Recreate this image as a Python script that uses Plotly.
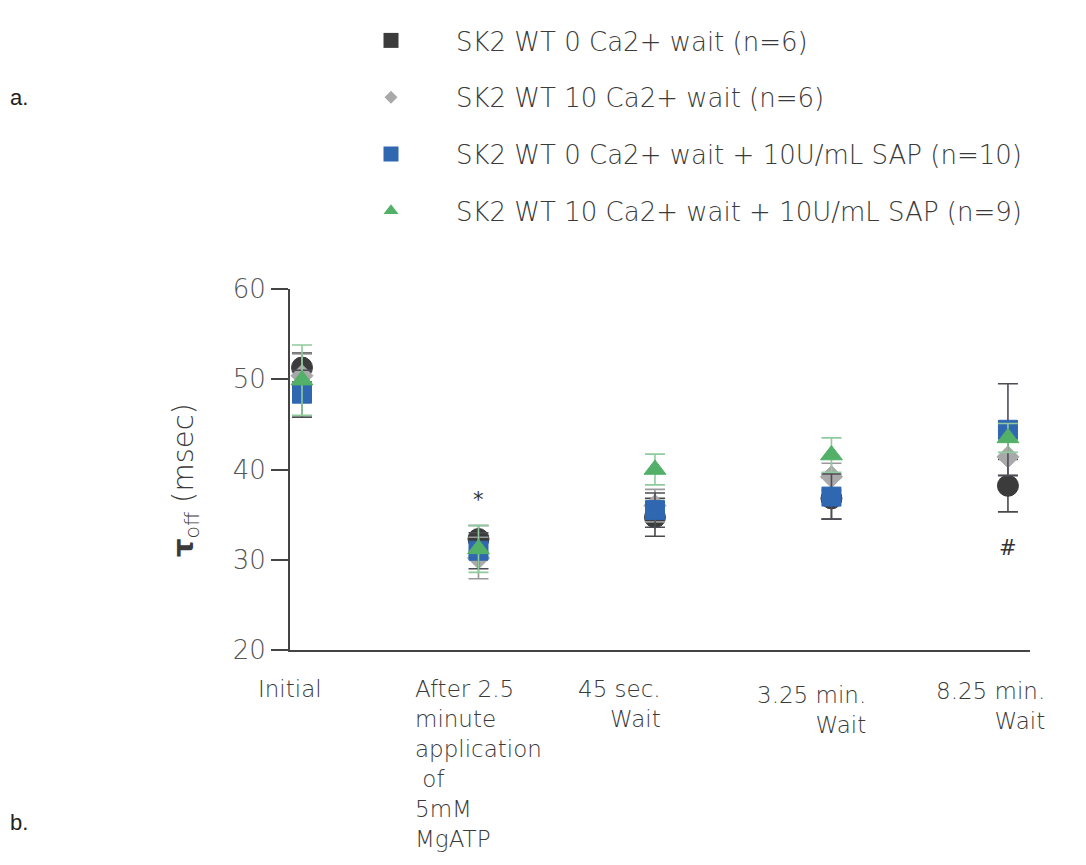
import plotly.graph_objects as go

# Time points of the protocol
categories = ["Initial", "After 2.5 minute application of 5mM MgATP",
              "45 sec. Wait", "3.25 min. Wait", "8.25 min. Wait"]
category_labels = ["Initial",
                   "After 2.5<br>minute<br>application<br>\u00a0of<br>5mM<br>MgATP",
                   "45 sec.<br>Wait",
                   "3.25 min.<br>Wait",
                   "8.25 min.<br>Wait"]

series_names = ["SK2 WT 0 Ca2+ wait (n=6)",
                "SK2 WT 10 Ca2+ wait (n=6)",
                "SK2 WT 0 Ca2+ wait + 10U/mL SAP (n=10)",
                "SK2 WT 10 Ca2+ wait + 10U/mL SAP (n=9)"]

# tau_off means and SEM (msec)
wt0_mean = [51.3, 32.3, 34.7, 36.8, 38.2]
wt0_sem = [1.6, 1.5, 2.1, 2.3, 2.9]
wt10_mean = [50.4, 30.2, 36.0, 39.2, 41.4]
wt10_sem = [2.4, 2.3, 1.8, 1.5, 2.0]
wt0_sap_mean = [48.4, 31.0, 35.5, 37.0, 44.4]
wt0_sap_sem = [2.6, 2.0, 1.9, 2.5, 5.1]
wt10_sap_mean = [49.9, 31.2, 40.0, 41.6, 43.5]
wt10_sap_sem = [3.9, 2.6, 1.7, 1.9, 1.6]

y_ticks = [20, 30, 40, 50, 60]

# significance marks: (category index, y value, symbol)
sig_marks = [(1, 36.6, "*"), (4, 31.3, "#")]

means = [wt0_mean, wt10_mean, wt0_sap_mean, wt10_sap_mean]
sems = [wt0_sem, wt10_sem, wt0_sap_sem, wt10_sap_sem]

colors = ["#3b3b3b", "#a9a9a9", "#2f67b1", "#52b068"]
err_colors = ["#4a4a4a", "#9a9a9a", "#4d4d55", "#8fcb9c"]
plot_symbols = ["circle", "diamond", "square", "triangle-up"]
plot_sizes = [21, 17, 19, 19]
legend_symbols = ["square", "diamond", "square", "triangle-up"]
legend_sizes = [15, 10, 15, 13]

label_font = "DejaVu Sans"
text_color = "#3a3a3a"

xs = list(range(len(categories)))

fig = go.Figure()

for i in range(4):
    fig.add_trace(go.Scatter(
        x=xs, y=means[i], mode="markers", showlegend=False,
        name=series_names[i],
        marker=dict(symbol=plot_symbols[i], size=plot_sizes[i], color=colors[i],
                    line=dict(width=1, color=colors[i])),
        error_y=dict(type="data", array=sems[i], color=err_colors[i],
                     thickness=1.6, width=10),
    ))

# legend entries
for i in range(4):
    fig.add_trace(go.Scatter(
        x=[None], y=[None], mode="markers", name=series_names[i],
        legendgroup=f"g{i}",
        marker=dict(symbol=legend_symbols[i], size=legend_sizes[i], color=colors[i]),
    ))

annotations = []
label_shift = [-12, 0, -35, -20, -17]
label_lift = [0, 0, 0, -6, -2]
label_align = ["center", "left", "right", "right", "right"]
for i, lab in enumerate(category_labels):
    annotations.append(dict(
        x=xs[i], y=20, xref="x", yref="y", text=lab, showarrow=False,
        xanchor="center", yanchor="top", align=label_align[i],
        xshift=label_shift[i], yshift=-24 + label_lift[i],
        font=dict(family=label_font, size=23, color=text_color, weight=300),
    ))

for xi, yv, sym in sig_marks:
    annotations.append(dict(
        x=xi, y=yv, xref="x", yref="y", text=sym, showarrow=False,
        font=dict(family=label_font, size=21, color="#333333"),
    ))

annotations.append(dict(
    x=(185 - 290) / 740, y=(650 - 480) / 361, xref="paper", yref="paper",
    textangle=-90, text="<b>τ</b><sub>off</sub> (msec)", showarrow=False,
    xanchor="center", yanchor="middle",
    font=dict(family=label_font, size=29, color=text_color, weight=300),
))
for txt, ypx in [("a.", 98), ("b.", 822)]:
    annotations.append(dict(
        x=(8 - 290) / 740, y=(650 - ypx) / 361, xref="paper", yref="paper",
        text=txt, showarrow=False, xanchor="left", yanchor="middle",
        font=dict(family="Liberation Sans", size=22, color="#222222"),
    ))

fig.update_layout(
    width=1086, height=865,
    margin=dict(l=290, r=56, t=289, b=215),
    paper_bgcolor="white", plot_bgcolor="white",
    font=dict(family=label_font, color=text_color),
    xaxis=dict(range=[-0.068, 4.125], showline=True, linecolor="#444444",
               linewidth=2, showticklabels=False, ticks="", showgrid=False,
               zeroline=False),
    yaxis=dict(range=[20, 60], tickvals=y_ticks, ticks="outside", ticklen=17,
               tickwidth=2, tickcolor="#444444", showline=True,
               linecolor="#444444", linewidth=2, showgrid=False, zeroline=False,
               tickfont=dict(family=label_font, size=26, color="#555555", weight=300)),
    legend=dict(x=(326 - 290) / 740, xanchor="left", y=(650 - 17) / 361,
                yanchor="top", itemwidth=120, tracegroupgap=20,
                font=dict(family=label_font, size=26, color=text_color, weight=300),
                bgcolor="rgba(0,0,0,0)"),
    annotations=annotations,
    showlegend=True,
)

fig.write_html("out.html")
